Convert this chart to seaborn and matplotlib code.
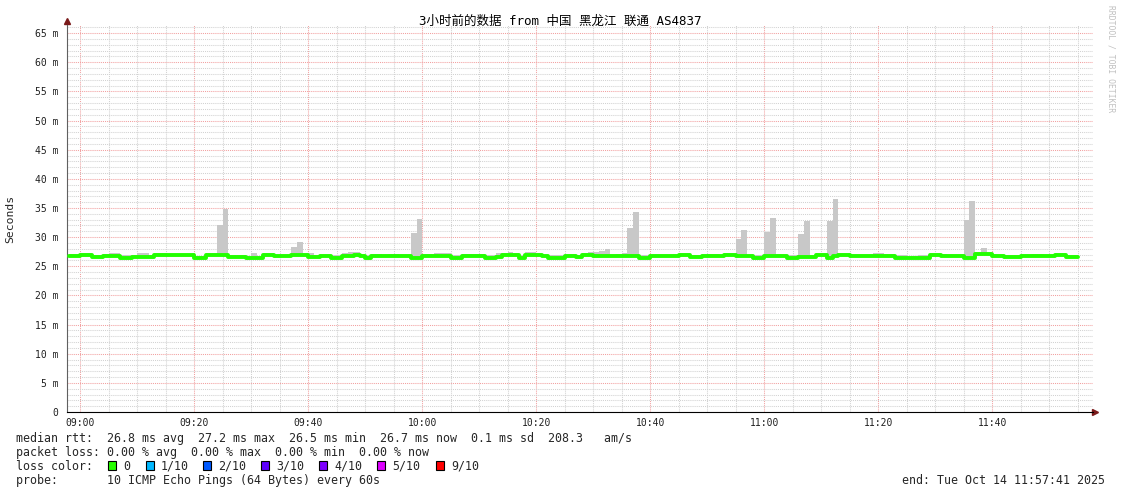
import numpy as np
import pandas as pd
import matplotlib.pyplot as plt
import matplotlib.patches as mpatches
from matplotlib.ticker import FixedLocator, MultipleLocator
import seaborn as sns

# minutes after 09:00, one sample per minute (10 pings each)
minutes = list(range(-2, 175))

# median rtt in ms
median_rtt = [
    26.7, 26.7, 27.0, 27.0, 26.6, 26.6, 26.7, 26.7, 26.7, 26.5,
    26.5, 26.6, 26.6, 26.6, 26.6, 26.9, 26.9, 26.9, 26.9, 26.9,
    26.9, 26.9, 26.4, 26.4, 26.9, 26.9, 26.9, 26.9, 26.6, 26.6,
    26.6, 26.4, 26.4, 26.4, 26.9, 26.9, 26.7, 26.7, 26.7, 26.9,
    26.9, 26.9, 26.6, 26.6, 26.7, 26.7, 26.5, 26.5, 26.7, 26.7,
    26.9, 26.7, 26.5, 26.7, 26.7, 26.7, 26.8, 26.8, 26.7, 26.7,
    26.5, 26.5, 26.8, 26.8, 26.8, 26.8, 26.8, 26.5, 26.5, 26.8,
    26.8, 26.8, 26.8, 26.5, 26.5, 26.6, 26.9, 26.9, 26.9, 26.5,
    27.0, 27.0, 27.0, 26.7, 26.5, 26.5, 26.5, 26.7, 26.7, 26.6,
    26.9, 26.9, 26.7, 26.7, 26.7, 26.7, 26.7, 26.7, 26.7, 26.7,
    26.5, 26.5, 26.7, 26.7, 26.7, 26.7, 26.7, 26.9, 26.9, 26.6,
    26.6, 26.7, 26.7, 26.7, 26.7, 27.0, 27.0, 26.7, 26.7, 26.7,
    26.5, 26.5, 26.7, 26.7, 26.7, 26.7, 26.5, 26.5, 26.6, 26.6,
    26.6, 27.0, 27.0, 26.5, 26.7, 26.9, 26.9, 26.7, 26.7, 26.7,
    26.7, 26.8, 26.8, 26.8, 26.8, 26.5, 26.5, 26.5, 26.5, 26.5,
    26.5, 27.0, 27.0, 26.7, 26.7, 26.7, 26.7, 26.5, 26.5, 27.1,
    27.1, 27.1, 26.7, 26.7, 26.6, 26.6, 26.6, 26.7, 26.7, 26.7,
    26.7, 26.7, 26.7, 27.0, 27.0, 26.6, 26.6,
]

# slowest ping of each sample (top of the grey smoke)
smoke_top = [
    27.1, 27.1, 27.3, 27.3, 27.0, 27.0, 27.1, 27.2, 27.2, 27.0,
    27.0, 27.0, 27.3, 27.3, 27.0, 27.2, 27.2, 27.1, 27.1, 27.1,
    27.1, 27.1, 26.7, 26.8, 27.3, 27.3, 32.0, 34.8, 27.0, 27.0,
    27.0, 26.8, 27.3, 26.8, 27.2, 27.2, 27.0, 27.0, 27.0, 28.3,
    29.2, 27.3, 27.2, 27.0, 27.0, 27.0, 26.9, 26.9, 27.3, 27.4,
    27.4, 27.0, 26.9, 27.1, 27.1, 27.0, 27.1, 27.1, 27.0, 27.0,
    30.7, 33.1, 27.1, 27.1, 27.3, 27.3, 27.2, 26.9, 26.9, 27.1,
    27.1, 27.1, 27.1, 27.0, 27.0, 27.3, 27.3, 27.4, 27.2, 26.9,
    27.4, 27.4, 27.2, 27.0, 26.9, 26.9, 27.0, 27.0, 27.1, 27.0,
    27.2, 27.4, 27.4, 27.6, 28.0, 27.0, 27.1, 27.2, 31.6, 34.3,
    27.0, 26.9, 27.0, 27.0, 27.0, 27.0, 27.1, 27.3, 27.3, 27.0,
    27.0, 27.0, 27.1, 27.1, 27.0, 27.3, 27.2, 29.7, 31.2, 27.0,
    27.0, 26.9, 30.9, 33.3, 27.1, 27.0, 26.9, 26.9, 30.5, 32.8,
    27.0, 27.3, 27.3, 32.8, 36.5, 27.3, 27.3, 27.0, 27.0, 27.0,
    27.0, 27.2, 27.2, 27.1, 27.1, 26.9, 26.9, 26.8, 26.8, 26.9,
    26.9, 27.3, 27.3, 27.1, 27.0, 27.0, 27.0, 32.9, 36.2, 27.4,
    28.1, 27.4, 27.0, 27.0, 26.9, 26.9, 26.9, 27.0, 27.0, 27.1,
    27.1, 27.0, 27.0, 27.3, 27.3, 26.9, 26.9,
]

tick_minutes = [0, 20, 40, 60, 80, 100, 120, 140, 160]
tick_labels = ["09:00", "09:20", "09:40", "10:00", "10:20", "10:40", "11:00", "11:20", "11:40"]
y_ticks = [0, 5, 10, 15, 20, 25, 30, 35, 40, 45, 50, 55, 60, 65]

loss_labels = ["0", "1/10", "2/10", "3/10", "4/10", "5/10", "9/10"]
loss_colors = ["#26ff00", "#00b8ff", "#0059ff", "#5e00ff", "#7e00ff", "#dd00ff", "#ff0000"]
loss_x = [108, 146, 203, 261, 319, 377, 436]

title = "3小时前的数据 from 中国 黑龙江 联通 AS4837"

sns.set_style("white")
plt.rcParams["font.family"] = ["DejaVu Sans Mono", "Noto Sans CJK SC"]

W, H = 1121, 494
fig = plt.figure(figsize=(W / 100, H / 100), dpi=100)
ax = fig.add_axes([67 / W, 1 - 412 / H, (1093 - 67) / W, (412 - 25) / H])

df = pd.DataFrame({"minute": minutes, "median": median_rtt, "top": smoke_top})
# close the last step one minute later
edges = np.append(df["minute"].values, df["minute"].values[-1] + 1)
med_ext = np.append(df["median"].values, df["median"].values[-1])
top_ext = np.append(df["top"].values, df["top"].values[-1])

ax.fill_between(edges, med_ext, top_ext, step="post", color="#c8c8c8", lw=0, zorder=2)
line_df = pd.DataFrame({"minute": edges, "median": med_ext})
sns.lineplot(data=line_df, x="minute", y="median", drawstyle="steps-post",
             color="#22ff00", linewidth=2.8, ax=ax, zorder=4)

ax.set_xlim(-2.32, 177.68)
ax.set_ylim(0, 66.4)
ax.set_xlabel("")
ax.set_ylabel("")

ax.xaxis.set_major_locator(FixedLocator(tick_minutes))
ax.set_xticklabels(tick_labels)
ax.xaxis.set_minor_locator(MultipleLocator(5))
ax.yaxis.set_major_locator(FixedLocator(y_ticks))
ax.set_yticklabels([("%d m" % v) if v else "0" for v in y_ticks])
ax.yaxis.set_minor_locator(MultipleLocator(1))

ax.set_axisbelow(True)
ax.grid(which="minor", color="#d2d2d2", linestyle=(0, (1, 1)), linewidth=0.75)
ax.grid(which="major", color="#f2a0a0", linestyle=(0, (1, 1)), linewidth=0.75)
ax.tick_params(which="both", labelsize=7, colors="#202020")
ax.tick_params(axis="y", which="major", length=2, pad=4, color="#707070")
ax.tick_params(axis="x", which="major", length=2, pad=2, color="#707070")
ax.tick_params(which="minor", length=0)

for s in ["top", "right"]:
    ax.spines[s].set_visible(False)
ax.spines["left"].set_color("#606060")
ax.spines["left"].set_linewidth(0.8)
ax.spines["bottom"].set_color("#000000")
ax.spines["bottom"].set_linewidth(0.8)

# axis arrows like rrdtool
ax.plot([0], [1.01], marker="^", color="#7a1a1a", markersize=4, transform=ax.transAxes, clip_on=False)
ax.plot([1.002], [0], marker=">", color="#7a1a1a", markersize=4, transform=ax.transAxes, clip_on=False)

fig.text(0.5, 1 - 21 / H, title, ha="center", va="center", fontsize=9, color="#000000")
fig.text(10 / W, 1 - 219 / H, "Seconds", rotation=90, ha="center", va="center", fontsize=8.2)
fig.text(1111 / W, 1 - 5 / H, "RRDTOOL / TOBI OETIKER", rotation=-90, ha="center", va="top",
         fontsize=5.8, color="#c0c0c0")

fs = 8.4
fig.text(16 / W, 1 - 438 / H,
         "median rtt:  26.8 ms avg  27.2 ms max  26.5 ms min  26.7 ms now  0.1 ms sd  208.3   am/s",
         va="center", fontsize=fs)
fig.text(16 / W, 1 - 452 / H, "packet loss: 0.00 % avg  0.00 % max  0.00 % min  0.00 % now",
         va="center", fontsize=fs)
fig.text(16 / W, 1 - 466 / H, "loss color:", va="center", fontsize=fs)
for lx, lab, col in zip(loss_x, loss_labels, loss_colors):
    fig.patches.append(mpatches.Rectangle((lx / W, 1 - 470 / H), 8 / W, 9 / H,
                                          transform=fig.transFigure, facecolor=col,
                                          edgecolor="#000000", linewidth=0.8))
    fig.text((lx + 15) / W, 1 - 466 / H, lab, va="center", fontsize=fs)
fig.text(16 / W, 1 - 480 / H, "probe:       10 ICMP Echo Pings (64 Bytes) every 60s",
         va="center", fontsize=fs)
fig.text(1105 / W, 1 - 480 / H, "end: Tue Oct 14 11:57:41 2025", ha="right", va="center", fontsize=fs)

fig.savefig("out.png", dpi=100)
